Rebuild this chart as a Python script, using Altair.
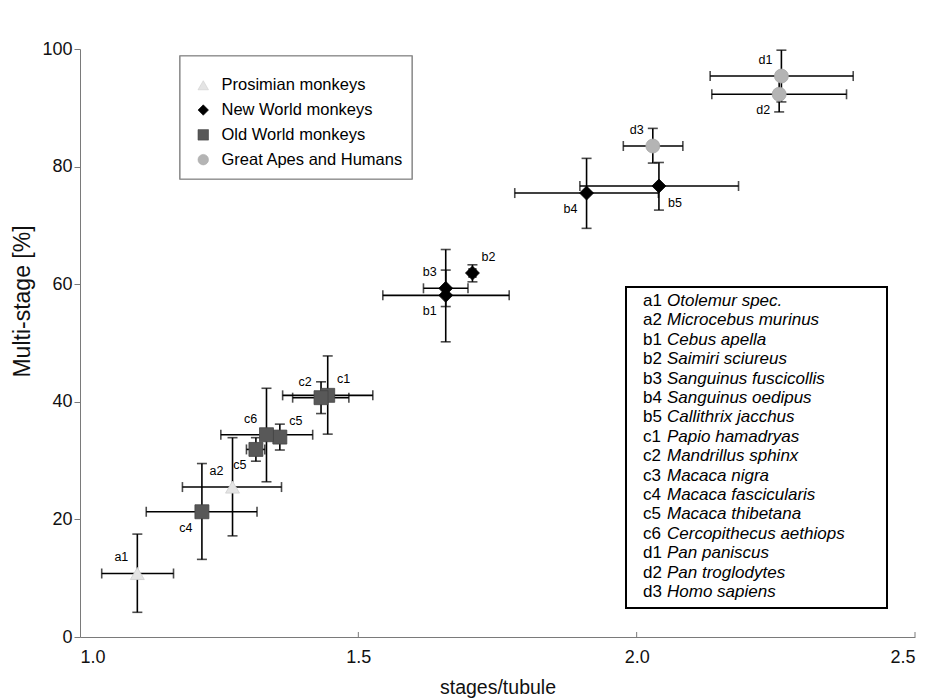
import altair as alt
import pandas as pd

codes = ["a1", "a2", "b1", "b2", "b3", "b4", "b5", "c1", "c2", "c3", "c4", "c5", "c6", "d1", "d2", "d3"]
groups = ["Prosimian monkeys", "Prosimian monkeys",
          "New World monkeys", "New World monkeys", "New World monkeys", "New World monkeys", "New World monkeys",
          "Old World monkeys", "Old World monkeys", "Old World monkeys", "Old World monkeys", "Old World monkeys", "Old World monkeys",
          "Great Apes and Humans", "Great Apes and Humans", "Great Apes and Humans"]
x_mean = [1.103, 1.274, 1.657, 1.705, 1.657, 1.910, 2.040, 1.445, 1.433, 1.316, 1.219, 1.359, 1.335, 2.260, 2.256, 2.029]
x_low = [1.039, 1.184, 1.544, 1.699, 1.617, 1.781, 1.898, 1.364, 1.382, 1.299, 1.119, 1.353, 1.253, 2.132, 2.135, 1.976]
x_high = [1.168, 1.362, 1.771, 1.711, 1.697, 2.039, 2.183, 1.526, 1.483, 1.332, 1.318, 1.365, 1.418, 2.389, 2.377, 2.083]
y_mean = [10.8, 25.5, 58.1, 61.9, 59.3, 75.5, 76.7, 41.1, 40.7, 31.9, 21.3, 34.0, 34.4, 95.4, 92.3, 83.5]
y_low = [4.2, 17.2, 50.2, 60.4, 56.2, 69.5, 72.6, 34.5, 38.0, 29.9, 13.2, 31.8, 26.4, 91.0, 89.3, 80.6]
y_high = [17.5, 33.9, 65.9, 63.3, 62.4, 81.4, 80.7, 47.8, 43.4, 33.9, 29.5, 36.2, 42.3, 99.8, 95.4, 86.5]
# label printed next to each point in the figure (c3 is printed as "c5" in the original)
point_labels = ["a1", "a2", "b1", "b2", "b3", "b4", "b5", "c1", "c2", "c5", "c4", "c5", "c6", "d1", "d2", "d3"]
label_side = ["ul", "ul", "ll", "ur", "ul", "ll", "lr", "ur", "ul", "ll", "ll", "ur", "ul", "ul", "ll", "ul"]

species = ["Otolemur spec.", "Microcebus murinus", "Cebus apella", "Saimiri sciureus",
           "Sanguinus fuscicollis", "Sanguinus oedipus", "Callithrix jacchus", "Papio hamadryas",
           "Mandrillus sphinx", "Macaca nigra", "Macaca fascicularis", "Macaca thibetana",
           "Cercopithecus aethiops", "Pan paniscus", "Pan troglodytes", "Homo sapiens"]

group_names = ["Prosimian monkeys", "New World monkeys", "Old World monkeys", "Great Apes and Humans"]
group_shapes = ["triangle-up", "diamond", "square", "circle"]
group_colors = ["#e4e4e4", "#000000", "#585858", "#b4b4b4"]
group_strokes = ["#cfcfcf", "#000000", "#444444", "#a8a8a8"]

x_ticks = [1.5, 2.0, 2.5]

FONT = "Liberation Sans"

df = pd.DataFrame({
    "code": codes, "group": groups, "x": x_mean, "xlo": x_low, "xhi": x_high,
    "y": y_mean, "ylo": y_low, "yhi": y_high, "lab": point_labels, "side": label_side,
})
sp = pd.DataFrame({"code": codes, "name": species, "row": list(range(len(codes)))})
tk = pd.DataFrame({"t": x_ticks})

xs = alt.Scale(domain=[1.0, 2.5], nice=False, zero=False)
ys = alt.Scale(domain=[0, 100], nice=False)

base = alt.Chart(df)

X = alt.X("x:Q", scale=xs, axis=alt.Axis(
    title="stages/tubule", values=[1.0, 1.5, 2.0, 2.5], format=".1f", ticks=False,
    labelPadding=11, labelFontSize=18, titleFontSize=19.5, titleFont=FONT, labelFont=FONT,
    domainColor="#7a7a7a", labelColor="#111", titleColor="#111", titleFontWeight="normal",
    titleY=50, titleBaseline="middle"))
Y = alt.Y("y:Q", scale=ys, axis=alt.Axis(
    title="Multi-stage [%]", values=[0, 20, 40, 60, 80, 100], tickSize=6, tickColor="#7a7a7a",
    labelPadding=2, labelFontSize=18, titleFontSize=23, titleFont=FONT, labelFont=FONT,
    domainColor="#7a7a7a", labelColor="#111", titleColor="#111", titleFontWeight="normal",
    titleX=-58, titleY=252, titleBaseline="middle", titleAngle=-90))

box1 = alt.Chart(tk).mark_rect(fill="white", stroke="#8a8a8a", strokeWidth=1.2).encode(
    x=alt.value(100), x2=alt.value(332), y=alt.value(7), y2=alt.value(130))
box2 = alt.Chart(tk).mark_rect(fill="white", stroke="#000", strokeWidth=2).encode(
    x=alt.value(546), x2=alt.value(807), y=alt.value(238), y2=alt.value(559))

inner_ticks = alt.Chart(tk).mark_rule(color="#7a7a7a", strokeWidth=1).encode(
    x=alt.X("t:Q", scale=xs), y=alt.value(588), y2=alt.value(583))

hbar = base.mark_rule(color="#000", strokeWidth=1.6).encode(
    x=alt.X("xlo:Q", scale=xs), x2="xhi:Q", y=alt.Y("y:Q", scale=ys))
vbar = base.mark_rule(color="#000", strokeWidth=1.6).encode(
    x=alt.X("x:Q", scale=xs), y=alt.Y("ylo:Q", scale=ys), y2="yhi:Q")
cap_l = base.mark_tick(color="#000", thickness=1.6, size=10, orient="vertical").encode(
    x=alt.X("xlo:Q", scale=xs), y=alt.Y("y:Q", scale=ys))
cap_r = base.mark_tick(color="#000", thickness=1.6, size=10, orient="vertical").encode(
    x=alt.X("xhi:Q", scale=xs), y=alt.Y("y:Q", scale=ys))
cap_b = base.mark_tick(color="#000", thickness=1.6, size=10, orient="horizontal").encode(
    x=alt.X("x:Q", scale=xs), y=alt.Y("ylo:Q", scale=ys))
cap_t = base.mark_tick(color="#000", thickness=1.6, size=10, orient="horizontal").encode(
    x=alt.X("x:Q", scale=xs), y=alt.Y("yhi:Q", scale=ys))


def leg():
    return alt.Legend(title=None, orient="none", legendX=115, legendY=28,
                      labelFontSize=16.5, labelFont=FONT, labelColor="#000", labelLimit=0,
                      symbolSize=110, rowPadding=7.8, labelOffset=10,
                      symbolStrokeWidth=0.6, padding=0, zindex=5)


points = base.mark_point(filled=True, size=195, opacity=1, strokeWidth=0.8).encode(
    x=X, y=Y,
    shape=alt.Shape("group:N", scale=alt.Scale(domain=group_names, range=group_shapes), legend=leg()),
    color=alt.Color("group:N", scale=alt.Scale(domain=group_names, range=group_colors), legend=leg()),
    stroke=alt.Stroke("group:N", scale=alt.Scale(domain=group_names, range=group_strokes), legend=leg()),
)

offsets = {"ul": (-16, -16), "ur": (16, -16), "ll": (-16, 16), "lr": (16, 17)}
label_layers = []
for side, (dx, dy) in offsets.items():
    label_layers.append(
        base.transform_filter(alt.datum.side == side).mark_text(
            fontSize=12.5, font=FONT, color="#000", dx=dx, dy=dy, align="center", baseline="middle"
        ).encode(x=alt.X("x:Q", scale=xs), y=alt.Y("y:Q", scale=ys), text="lab:N"))

sp_base = alt.Chart(sp).transform_calculate(py="252 + datum.row * 19.4")
sp_codes = sp_base.mark_text(fontSize=17, font=FONT, align="left", baseline="middle", color="#000").encode(
    x=alt.value(563), y=alt.Y("py:Q", scale=None), text="code:N")
sp_names = sp_base.mark_text(fontSize=17, font=FONT, fontStyle="italic", align="left",
                             baseline="middle", color="#000").encode(
    x=alt.value(587), y=alt.Y("py:Q", scale=None), text="name:N")

chart = alt.layer(
    box1, box2, inner_ticks, hbar, vbar, cap_l, cap_r, cap_b, cap_t, points, *label_layers, sp_codes, sp_names
).properties(
    width=835, height=588,
    autosize=alt.AutoSizeParams(type="none"),
    padding={"left": 80, "top": 49, "right": 19, "bottom": 61},
    background="white",
).configure_view(stroke=None).configure_axis(grid=False)

chart.save("out.html", embed_options={"renderer": "svg", "actions": False})
